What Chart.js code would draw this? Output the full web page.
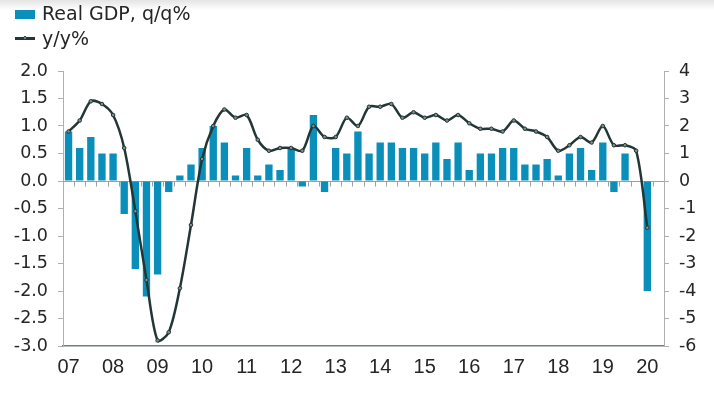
<!DOCTYPE html>
<html>
<head>
<meta charset="utf-8">
<script src="https://cdn.jsdelivr.net/npm/chart.js@4/dist/chart.umd.min.js"></script>
<style>
  html, body { margin: 0; padding: 0; }
  body { width: 714px; height: 395px; background: linear-gradient(#e4e4e4 0px, #ffffff 10px); overflow: hidden; }
  #wrap { position: relative; width: 714px; height: 395px; }
  #legend { position: absolute; left: 15px; top: 1px; font-family: "DejaVu Sans", sans-serif; font-size: 19px; color: #262626; }
  #legend div { height: 25px; line-height: 25px; white-space: nowrap; }
  #legend .box { display: inline-block; width: 20px; height: 9px; background: #0a8fba; margin-right: 7px; vertical-align: 1px; }
  #legend .ln { display: inline-block; position: relative; width: 20px; height: 3px; background: #233535; margin-right: 7px; vertical-align: 5px; }
  #legend .ln i { position: absolute; left: 8px; top: -1px; width: 4px; height: 4px; border-radius: 2px; background: #8e9a9a; border: 1px solid #233535; box-sizing: border-box; }
</style>
</head>
<body>
<div id="wrap">
  <canvas id="gdpChart" width="714" height="395"></canvas>
  <div id="legend">
    <div><span class="box"></span>Real GDP, q/q%</div>
    <div><span class="ln"><i></i></span>y/y%</div>
  </div>
</div>
<script>
// year tick labels (shown at Q1 of each year)
var years = ['07','08','09','10','11','12','13','14','15','16','17','18','19','20'];

// quarterly real GDP growth, q/q% (2007Q1 - 2020Q1)
var gdpQoQ = [0.9, 0.6, 0.8, 0.5, 0.5, -0.6, -1.6, -2.1, -1.7, -0.2,
              0.1, 0.3, 0.6, 1.0, 0.7, 0.1, 0.6, 0.1, 0.3, 0.2,
              0.6, -0.1, 1.2, -0.2, 0.6, 0.5, 0.9, 0.5, 0.7, 0.7,
              0.6, 0.6, 0.5, 0.7, 0.4, 0.7, 0.2, 0.5, 0.5, 0.6,
              0.6, 0.3, 0.3, 0.4, 0.1, 0.5, 0.6, 0.2, 0.7, -0.2,
              0.5, 0.0, -2.0];

// y/y%
var gdpYoY = [1.8, 2.2, 2.9, 2.8, 2.4, 1.2, -1.1, -3.6, -5.8, -5.5,
              -3.9, -1.6, 0.8, 2.0, 2.6, 2.3, 2.4, 1.5, 1.1, 1.2,
              1.2, 1.1, 2.0, 1.6, 1.6, 2.3, 2.0, 2.7, 2.7, 2.8,
              2.3, 2.5, 2.3, 2.4, 2.2, 2.4, 2.1, 1.9, 1.9, 1.8,
              2.2, 1.9, 1.8, 1.6, 1.1, 1.3, 1.6, 1.4, 2.0, 1.3,
              1.3, 1.1, -1.7];

var leftTicks = { min: -3, max: 2, step: 0.5 };
var rightTicks = { min: -6, max: 4, step: 1 };

// categories: one per quarter, plus an empty slot at the end
var quarters = [];
for (var y = 0; y < years.length; y++) {
    for (var q = 1; q <= 4; q++) {
        quarters.push(years[y] + 'Q' + q);
    }
}
quarters = quarters.slice(0, 54);

// zero line with small quarter ticks, like the excel axis crossing at 0
var zeroAxis = {
    id: 'zeroAxis',
    beforeDatasetsDraw: function(chart) {
        var ctx = chart.ctx;
        var xs = chart.scales.x;
        var y0 = Math.round(chart.scales.y.getPixelForValue(0)) + 0.5;
        var area = chart.chartArea;
        var w = (area.right - area.left) / quarters.length;
        ctx.save();
        ctx.strokeStyle = '#a0a0a0';
        ctx.lineWidth = 1;
        ctx.beginPath();
        ctx.moveTo(area.left, y0);
        ctx.lineTo(area.right, y0);
        for (var i = 1; i < quarters.length; i++) {
            var x = Math.round(xs.getPixelForValue(i) - w / 2) + 0.5;
            ctx.moveTo(x, y0);
            ctx.lineTo(x, y0 + 5);
        }
        ctx.stroke();
        ctx.restore();
    }
};

var ctx = document.getElementById('gdpChart').getContext('2d');
var chart = new Chart(ctx, {
    type: 'bar',
    data: {
        labels: quarters,
        datasets: [
            {
                type: 'line',
                label: 'y/y%',
                data: gdpYoY,
                yAxisID: 'y2',
                order: 0,
                borderColor: '#233535',
                borderWidth: 2.5,
                tension: 0.3,
                pointRadius: 1.8,
                pointBackgroundColor: '#7f8c8c',
                pointBorderColor: '#233535',
                pointBorderWidth: 1
            },
            {
                type: 'bar',
                label: 'Real GDP, q/q%',
                data: gdpQoQ,
                yAxisID: 'y',
                order: 1,
                backgroundColor: '#0a8fba',
                barPercentage: 0.66,
                categoryPercentage: 1.0
            }
        ]
    },
    options: {
        responsive: false,
        animation: false,
        layout: { padding: { top: 71, left: 0, right: 0, bottom: 0 } },
        plugins: {
            legend: { display: false },
            tooltip: { enabled: false }
        },
        scales: {
            x: {
                grid: { display: false, drawTicks: false },
                border: { display: true, color: '#6f7f7f', width: 1.5 },
                ticks: {
                    autoSkip: false,
                    maxRotation: 0,
                    padding: 9,
                    color: '#262626',
                    font: { family: 'Liberation Sans', size: 20 },
                    callback: function(val, i) {
                        var lab = quarters[i];
                        return lab.slice(2) === 'Q1' ? lab.slice(0, 2) : '';
                    }
                },
                afterFit: function(scale) { scale.height = 49; }
            },
            y: {
                position: 'left',
                min: leftTicks.min,
                max: leftTicks.max,
                grid: { drawOnChartArea: false, drawTicks: true, tickLength: 5, color: '#b0b0b0' },
                border: { display: true, color: '#b0b0b0' },
                ticks: {
                    stepSize: leftTicks.step,
                    padding: 10,
                    color: '#262626',
                    font: { family: 'DejaVu Sans', size: 17.5 },
                    callback: function(v) { return v.toFixed(1); }
                },
                afterFit: function(scale) { scale.width = 63; }
            },
            y2: {
                position: 'right',
                min: rightTicks.min,
                max: rightTicks.max,
                grid: { drawOnChartArea: false, drawTicks: true, tickLength: 5, color: '#b0b0b0' },
                border: { display: true, color: '#b0b0b0' },
                ticks: {
                    stepSize: rightTicks.step,
                    padding: 10,
                    color: '#262626',
                    font: { family: 'DejaVu Sans', size: 17.5 }
                },
                afterFit: function(scale) { scale.width = 50; }
            }
        }
    },
    plugins: [zeroAxis]
});
</script>
</body>
</html>
